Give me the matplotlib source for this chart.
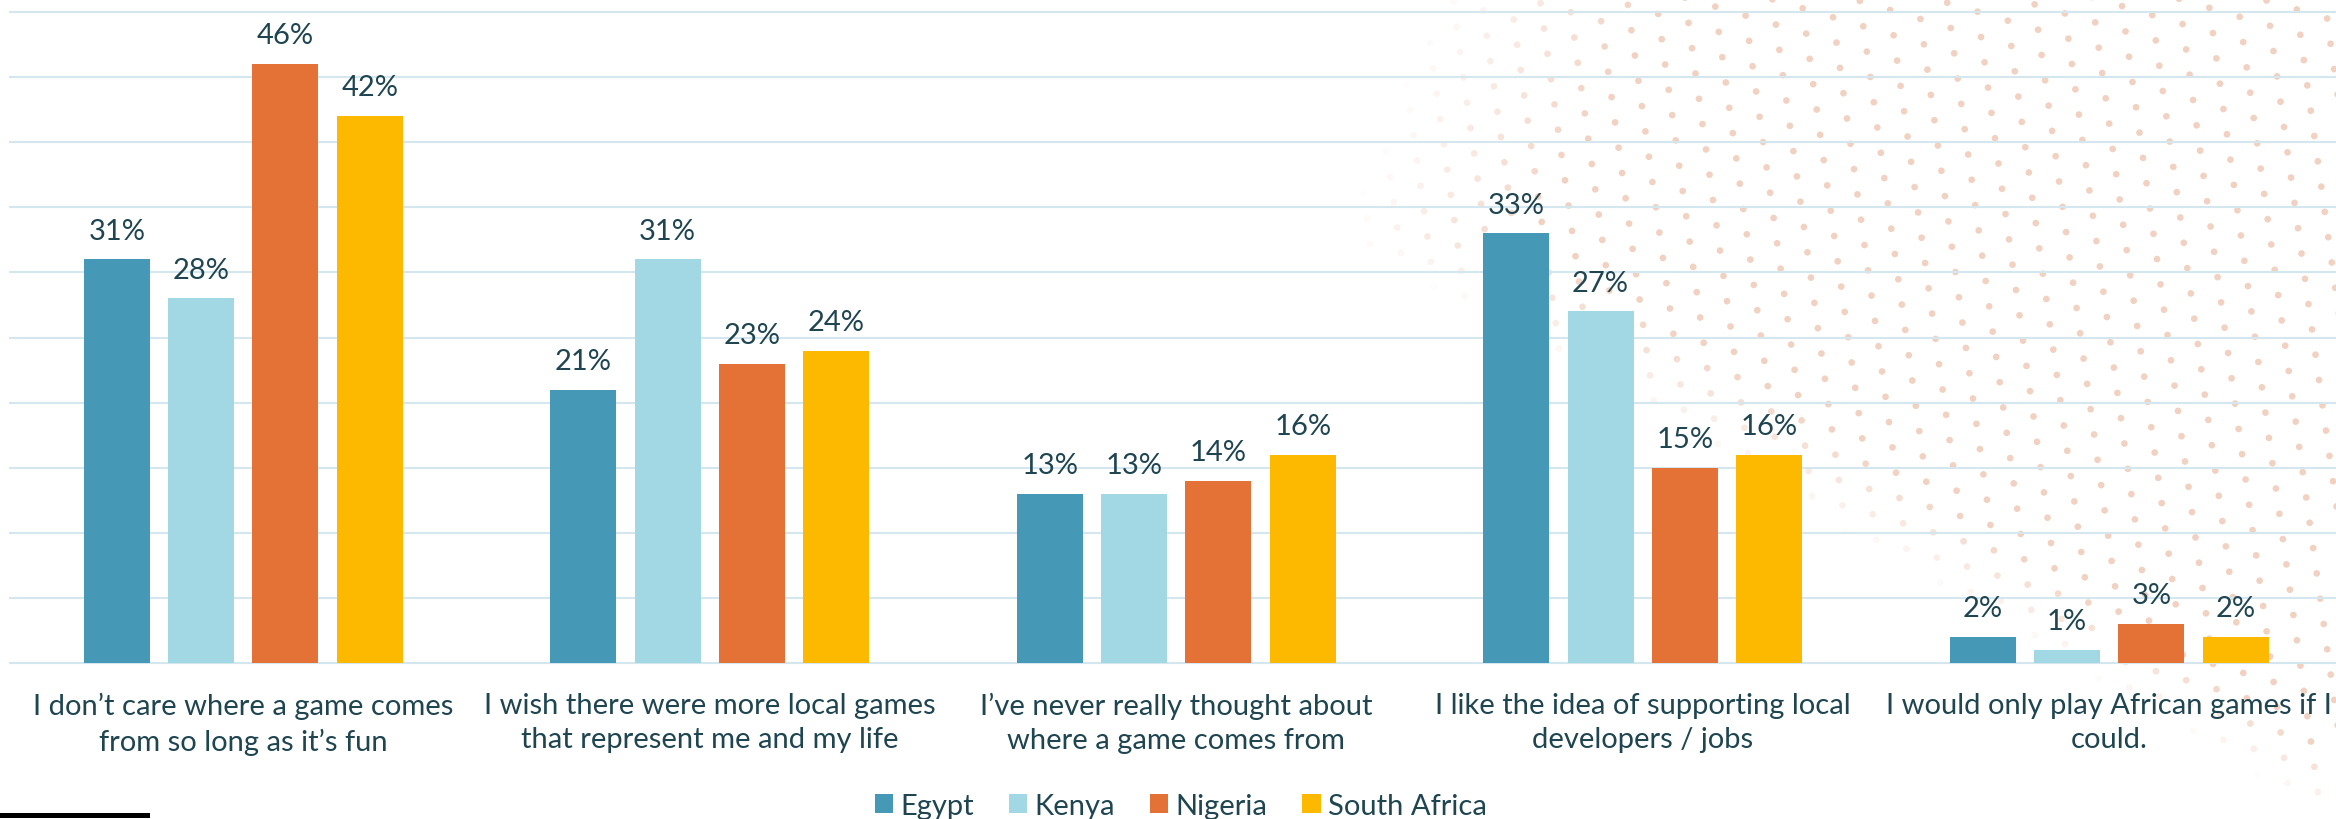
import numpy as np
import matplotlib
matplotlib.use('Agg')
import matplotlib.pyplot as plt
from matplotlib.lines import Line2D
from matplotlib.patches import Patch

plt.rcParams['font.family'] = ['Lato', 'DejaVu Sans']

# survey answers, share of players per country (%)
statements = [
    'I don\u2019t care where a game comes\nfrom so long as it\u2019s fun',
    'I wish there were more local games\nthat represent me and my life',
    'I\u2019ve never really thought about\nwhere a game comes from',
    'I like the idea of supporting local\ndevelopers / jobs',
    'I would only play African games if I\ncould.',
]
countries = ['Egypt', 'Kenya', 'Nigeria', 'South Africa']
egypt = [31, 21, 13, 33, 2]
kenya = [28, 31, 13, 27, 1]
nigeria = [46, 23, 14, 15, 3]
south_africa = [42, 24, 16, 16, 2]
grid_levels = [0, 5, 10, 15, 20, 25, 30, 35, 40, 45, 50]

colors = ['#4599b6', '#a2d8e4', '#e47136', '#fdb900']
text_color = '#1f4550'
FS = 21

W, H = 2336, 820
fig = plt.figure(figsize=(W / 100, H / 100), dpi=100)

# dotted decoration in the right half, fading out towards the left
bg = fig.add_axes([0, 0, 1, 1], zorder=0)
bg.set_xlim(0, W)
bg.set_ylim(H, 0)
bg.axis('off')
a = np.array([30.3, 9.0])
b = np.array([3.5, 25.3])
origin = np.array([1802.7, 9.3])
i, j = np.meshgrid(np.arange(-40, 30), np.arange(-10, 45))
px = origin[0] + i * a[0] + j * b[0]
py = origin[1] + i * a[1] + j * b[1]
px, py = px.ravel(), py.ravel()
edge = 1340 + np.maximum(1.7 * (py - 237), 0.38 * (237 - py))
fade = 230 - 0.15 * py
alpha = np.clip((px - edge) / fade, 0, 1)
keep = (alpha > 0.02) & (px > -10) & (px < W + 10) & (py > -10) & (py < H + 10)
rgba = np.zeros((keep.sum(), 4))
rgba[:, :3] = matplotlib.colors.to_rgb('#f1d1c1')
rgba[:, 3] = alpha[keep]
bg.scatter(px[keep], py[keep], s=23, c=rgba, linewidths=0)

# main bar chart
ax = fig.add_axes([10 / W, 1 - 664 / H, 2332.5 / W, (664 - 13) / H], zorder=1)
ax.patch.set_visible(False)
for s in ax.spines.values():
    s.set_visible(False)

x = np.arange(len(statements))
pitch = 0.1807
width = 0.1415
series = [egypt, kenya, nigeria, south_africa]
for k, (vals, col) in enumerate(zip(series, colors)):
    pos = x + (k - 1.5) * pitch
    bars = ax.bar(pos, vals, width=width, color=col, zorder=2)
    for rect, v in zip(bars, vals):
        ax.annotate(f'{v}%', (rect.get_x() + rect.get_width() / 2, v),
                    xytext=(0, 15), textcoords='offset points',
                    ha='center', va='baseline', fontsize=FS, color=text_color)

for g in grid_levels:
    ax.axhline(g, color='#d5e7ee', linewidth=1.5, zorder=0, clip_on=False)

ax.set_xlim(-0.5, 4.5)
ax.set_ylim(0, 50)
ax.set_yticks([])
ax.set_xticks(x)
ax.set_xticklabels(statements, fontsize=FS, color=text_color, linespacing=1.38)
ax.tick_params(axis='x', length=0, pad=21)

handles = [Patch(facecolor=c, edgecolor='none') for c in colors]
fig.legend(handles, countries, loc='center', bbox_to_anchor=(1181 / W, 1 - 807 / H),
           ncol=4, frameon=False, fontsize=FS, labelcolor=text_color,
           handlelength=0.62, handleheight=0.62, handletextpad=0.25,
           columnspacing=1.2, borderpad=0)

# short rule in the bottom-left corner
fig.add_artist(Line2D([0, 147 / W], [1 - 816 / H, 1 - 816 / H], color='black',
                      linewidth=3.6, transform=fig.transFigure))

fig.savefig('out.png', dpi=100)
